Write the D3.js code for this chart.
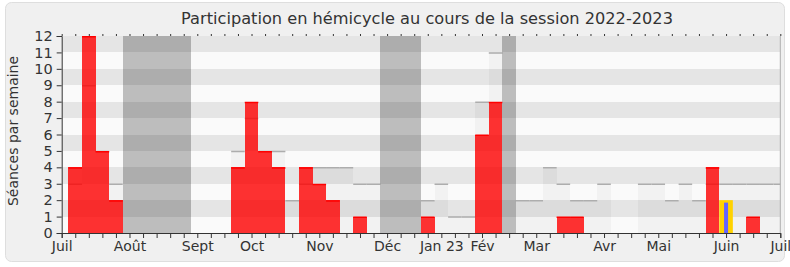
<!DOCTYPE html>
<html>
<head>
<meta charset="utf-8">
<script src="https://cdn.jsdelivr.net/npm/d3@7"></script>
<style>
  body { margin: 0; background: #fff; }
  svg text { font-family: "DejaVu Sans", Verdana, sans-serif; fill: #333; }
  rect.pres, rect.med, rect.vac, rect.stripe { shape-rendering: crispEdges; }
</style>
</head>
<body>
<div id="the_chart"></div>
<script>

// one value per week, week 0 = first week of July 2022, week 53 = July 2023
var weeks = d3.range(54);
var presences = [0, 4, 12, 5, 2, 0, 0, 0, 0, 0, 0, 0, 0, 4, 8, 5, 4, 0, 4, 3, 2, 0, 1, 0, 0, 0, 0, 1,
  0, 0, 0, 6, 8, 0, 0, 0, 0, 1, 1, 0, 0, 0, 0, 0, 0, 0, 0, 0, 4, 0, 0, 1, 0, 0];
var mediane = [0, 3, 9, 5, 3, 0, 0, 0, 0, 0, 0, 0, 0, 5, 7, 5, 5, 2, 3, 4, 4, 4, 3, 3, 0, 0, 0, 2,
  3, 1, 1, 8, 11, 0, 2, 2, 4, 3, 2, 2, 3, 0, 0, 3, 3, 2, 3, 2, 3, 3, 3, 3, 3, 3];
var interventions = [];
interventions[49] = 2;
var questions = [];
questions[49] = 1.85;
var vacances = [5, 6, 7, 8, 9, 24, 25, 26, 33];
var monthTicks = [0, 5, 10, 14, 19, 24, 28, 31, 35, 40, 44, 49, 53];
var monthLabels = ["Juil", "Août", "Sept", "Oct", "Nov", "Déc", "Jan 23", "Fév", "Mar", "Avr", "Mai", "Juin", "Juil"];
var yTicks = d3.range(0, 13);

var w = 790;
var h = 267;
var pLeft = 61.7, pRight = 780.3, pTop = 36, pBottom = 233;

var svg = d3.select("#the_chart")
  .append("svg")
  .attr("width", w)
  .attr("height", h);

svg.append("rect")
  .attr("x", 5.5).attr("y", 2.5)
  .attr("width", 779).attr("height", 259)
  .attr("rx", 6)
  .attr("fill", "#f0f0f0")
  .attr("stroke", "#dedede");

var xscale = d3.scaleLinear()
  .domain([0, 53])
  .range([pLeft, pRight]);

var yscale = d3.scaleLinear()
  .domain([0, 12])
  .range([pBottom, pTop]);

var step = xscale(1) - xscale(0);

svg.append("clipPath").attr("id", "plot")
  .append("rect")
  .attr("x", pLeft).attr("y", pTop - 1)
  .attr("width", pRight - pLeft).attr("height", pBottom - pTop + 1);

var plot = svg.append("g").attr("clip-path", "url(#plot)");

// horizontal stripes
plot.selectAll("rect.stripe")
  .data(d3.range(0, 12))
  .enter().append("rect")
  .attr("class", "stripe")
  .attr("x", pLeft)
  .attr("width", pRight - pLeft)
  .attr("y", function (d) { return yscale(d + 1); })
  .attr("height", function (d) { return yscale(d) - yscale(d + 1); })
  .attr("fill", function (d) { return d % 2 == 1 ? "#e5e5e5" : "#fafafa"; });

function barX(i) { return xscale(i) - step / 2; }

// median presence (light bars with a grey top line)
var med = weeks.filter(function (i) { return mediane[i] > 0; });
plot.append("g").attr("opacity", 0.03)
  .selectAll("rect")
  .data(med)
  .enter().append("rect")
  .attr("class", "med")
  .attr("x", barX)
  .attr("width", step)
  .attr("y", function (i) { return yscale(mediane[i]); })
  .attr("height", function (i) { return pBottom - yscale(mediane[i]); })
  .attr("fill", "#000");

plot.selectAll("line.med")
  .data(med)
  .enter().append("line")
  .attr("class", "med")
  .attr("x1", barX)
  .attr("x2", function (i) { return barX(i) + step; })
  .attr("y1", function (i) { return yscale(mediane[i]) + 0.5; })
  .attr("y2", function (i) { return yscale(mediane[i]) + 0.5; })
  .attr("stroke", "#adadad")
  .attr("stroke-width", 1.5);

// holidays
plot.append("g").attr("opacity", 0.245)
  .selectAll("rect")
  .data(vacances)
  .enter().append("rect")
  .attr("class", "vac")
  .attr("x", barX)
  .attr("width", step)
  .attr("y", pTop)
  .attr("height", pBottom - pTop)
  .attr("fill", "#000");

// presences
var pres = weeks.filter(function (i) { return presences[i] > 0; });
plot.append("g").attr("opacity", 0.8)
  .selectAll("rect")
  .data(pres)
  .enter().append("rect")
  .attr("class", "pres")
  .attr("x", barX)
  .attr("width", step)
  .attr("y", function (i) { return yscale(presences[i]); })
  .attr("height", function (i) { return pBottom - yscale(presences[i]); })
  .attr("fill", "#ff0000");

plot.selectAll("line.pres")
  .data(pres)
  .enter().append("line")
  .attr("class", "pres")
  .attr("x1", barX)
  .attr("x2", function (i) { return barX(i) + step; })
  .attr("y1", function (i) { return yscale(presences[i]) + 0.75; })
  .attr("y2", function (i) { return yscale(presences[i]) + 0.75; })
  .attr("stroke", "#ff0000")
  .attr("stroke-width", 1.5);

// interventions
var inter = weeks.filter(function (i) { return interventions[i] > 0; });
plot.selectAll("rect.inter")
  .data(inter)
  .enter().append("rect")
  .attr("x", barX)
  .attr("width", step)
  .attr("y", function (i) { return yscale(interventions[i]); })
  .attr("height", function (i) { return pBottom - yscale(interventions[i]); })
  .attr("fill", "#ffd200");

// questions
var quest = weeks.filter(function (i) { return questions[i] > 0; });
plot.selectAll("rect.quest")
  .data(quest)
  .enter().append("rect")
  .attr("x", function (i) { return xscale(i) - 2; })
  .attr("width", 4)
  .attr("y", function (i) { return yscale(questions[i]); })
  .attr("height", function (i) { return pBottom - yscale(questions[i]); })
  .attr("fill", "#6464ff");

// right border
svg.append("line")
  .attr("x1", pRight).attr("x2", pRight)
  .attr("y1", pTop).attr("y2", pBottom)
  .attr("stroke", "#b0b0b0");

// axes
var yaxis = d3.axisLeft(yscale)
  .tickValues(yTicks)
  .tickSize(5)
  .tickPadding(4);

var gy = svg.append("g")
  .attr("transform", "translate(" + pLeft + ",0)")
  .call(yaxis);
gy.selectAll("text").style("font-size", "14.5px");

var xaxis = d3.axisBottom(xscale)
  .tickValues(weeks)
  .tickSize(5)
  .tickFormat(function (d) {
    var k = monthTicks.indexOf(d);
    return k < 0 ? "" : monthLabels[k];
  });

var gx = svg.append("g")
  .attr("transform", "translate(0," + pBottom + ")")
  .call(xaxis);
gx.selectAll("text").style("font-size", "14px");

var topaxis = d3.axisTop(xscale)
  .tickValues(weeks)
  .tickSize(2)
  .tickFormat("");

var gt = svg.append("g")
  .attr("transform", "translate(0," + pTop + ")")
  .call(topaxis);
gt.select(".domain").remove();

svg.selectAll(".domain, .tick line").attr("stroke", "#333");

svg.append("text")
  .attr("x", 427)
  .attr("y", 24)
  .attr("text-anchor", "middle")
  .style("font-size", "16.2px")
  .text("Participation en hémicycle au cours de la session 2022-2023");

svg.append("text")
  .attr("transform", "translate(18,131) rotate(-90)")
  .attr("text-anchor", "middle")
  .style("font-size", "14px")
  .text("Séances par semaine");

</script>
</body>
</html>
